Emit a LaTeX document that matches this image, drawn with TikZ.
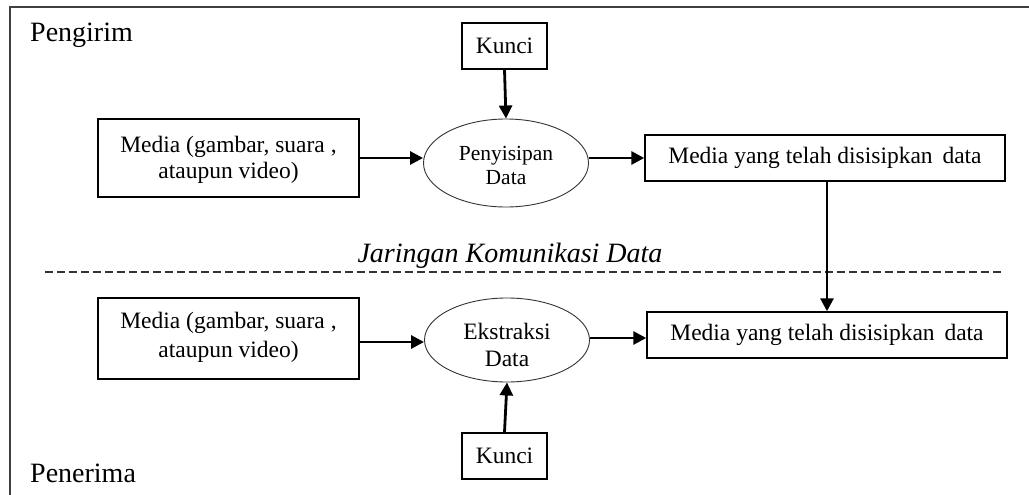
\documentclass[tikz,border=0pt]{standalone}
\usepackage{fontspec}
\setmainfont{Liberation Serif}
\usetikzlibrary{arrows.meta,shapes.geometric,calc}
% multi-line label raised (or lowered) inside its shape, keeping the shape's size
\newcommand{\shiftedtext}[2]{\raisebox{#1}[\height][\depth]{\begin{tabular}{@{}c@{}}#2\end{tabular}}}
\begin{document}
\begin{tikzpicture}[x=1pt,y=-1pt,
  box/.style={draw=black,line width=1.4pt,inner sep=0pt,align=center,font=\fontsize{23.5}{26}\selectfont},
  proc/.style={ellipse,draw=black!80,line width=0.9pt,inner sep=0pt,align=center},
  flow/.style={line width=2.8pt,-{Triangle[length=13pt,width=13pt]}},
  side/.style={font=\fontsize{28}{32}\selectfont,anchor=base west,inner sep=0pt},
]
\useasboundingbox (0,0) rectangle (1029,495);
\clip (0,0) rectangle (1029,495);
\fill[white] (0,0) rectangle (1029,495);

% outer frame (runs past the right and bottom edges)
\draw[line width=1.5pt,black!75] (10,7) rectangle (1060,530);

% sender side
\node[side] (pengirim) at (30,42) {Pengirim};
\node[box,minimum width=85pt,minimum height=46pt] (kunciA) at (504.5,46) {Kunci};
\node[proc,minimum width=165pt,minimum height=88pt,font=\fontsize{21.5}{24}\selectfont] (procA) at (506,163) {\shiftedtext{-4.2pt}{Penyisipan\\Data}};
\node[box,minimum width=261pt,minimum height=78pt] (mediaA) at (228.5,158) {\shiftedtext{-2pt}{Media (gambar, suara ,\\ataupun video)}};
\node[box,minimum width=360pt,minimum height=46pt] (outA) at (825,158) {Media yang telah disisipkan\, data};

% network separator
\node[font=\fontsize{28}{32}\selectfont\itshape,anchor=base,inner sep=0pt] (net) at (510,262) {Jaringan Komunikasi Data};
\coordinate (dashL) at (45,272);
\coordinate (dashR) at (1003,272);
\draw[line width=1.8pt,black!80,dash pattern=on 8pt off 4pt] (dashL) -- (dashR);

% receiver side
\node[box,minimum width=261pt,minimum height=81pt,font=\fontsize{23.5}{29}\selectfont] (mediaB) at (228.5,338.5) {\shiftedtext{1.5pt}{Media (gambar, suara ,\\ataupun video)}};
\node[proc,minimum width=165pt,minimum height=84pt,font=\fontsize{23.5}{27}\selectfont] (procB) at (507,340) {\shiftedtext{-8pt}{Ekstraksi\\Data}};
\node[box,minimum width=360pt,minimum height=46pt] (outB) at (827,335) {Media yang telah disisipkan\, data};
\node[box,minimum width=85pt,minimum height=46pt] (kunciB) at (504.5,456) {Kunci};
\node[side] (penerima) at (30,482) {Penerima};

% connectors
\draw[flow] (kunciA.south) -- (procA.north);
\draw[flow] (mediaA.east) -- (mediaA.east -| procA.west);
\draw[flow] (procA.east |- outA.west) -- (outA.west);
\draw[flow] ($(outA.south)+(2,0)$) -- ($(outA.south |- outB.north)+(2,0)$);
\draw[flow] ($(mediaB.east |- procB.west)+(0,2)$) -- ($(procB.west)+(0,2)$);
\draw[flow] ($(procB.east)+(0,-2)$) -- ($(procB.east -| outB.west)+(0,-2)$);
\draw[flow] (kunciB.north) -- (procB.south);
\end{tikzpicture}
\end{document}
